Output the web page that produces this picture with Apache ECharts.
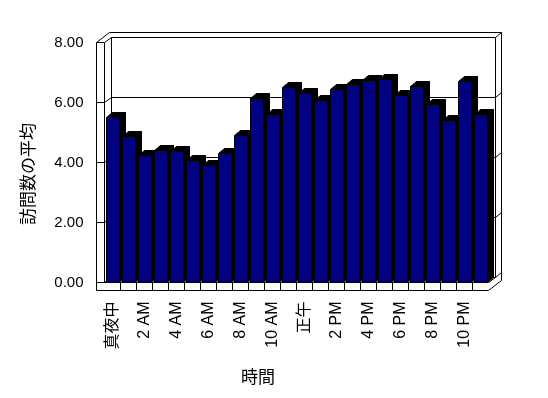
<!DOCTYPE html>
<html>
<head>
<meta charset="utf-8">
<script src="https://cdn.jsdelivr.net/npm/echarts@6/dist/echarts.min.js"></script>
<style>
html, body { margin: 0; padding: 0; background: #fff; }
#chart { width: 548px; height: 398px; }
</style>
</head>
<body>
<div id="chart"></div>
<script>
const hours = [
  '真夜中', '1 AM', '2 AM', '3 AM', '4 AM', '5 AM', '6 AM', '7 AM', '8 AM', '9 AM', '10 AM', '11 AM',
  '正午', '1 PM', '2 PM', '3 PM', '4 PM', '5 PM', '6 PM', '7 PM', '8 PM', '9 PM', '10 PM', '11 PM'
]
const visits = [
  5.51, 4.88, 4.24, 4.40, 4.38, 4.07, 3.91, 4.31, 4.91, 6.13, 5.60, 6.51,
  6.31, 6.07, 6.44, 6.60, 6.73, 6.77, 6.24, 6.53, 5.93, 5.40, 6.71, 5.60
]
const yTicks = [0, 2, 4, 6, 8]
const yMax = 8

const FONT = "'Liberation Sans', 'Noto Sans CJK JP', sans-serif"
const px = (v) => Math.round(v - 0.5) + 0.5

// 3D風の枠（側壁・奥の壁・床）
const renderFrame = (params, api) => {
  const band = api.size([1, 0])[0]
  const x0 = px(api.coord([0, 0])[0] - band / 2)
  const x1 = px(api.coord([hours.length - 1, 0])[0] + band / 2)
  const yb = px(api.coord([0, 0])[1])
  const yt = px(api.coord([0, yMax])[1])
  const xs = x0 - 8           // side wall outer edge
  const yf = yb + 8           // floor bottom
  const line = (points) => ({
    type: 'polyline',
    shape: { points },
    style: { stroke: '#000', lineWidth: 1, fill: null }
  })
  const children = [
    {
      type: 'polygon',
      shape: { points: [[xs, yt], [xs + 13, yt - 10], [x1 + 13, yt - 10], [x1 + 13, yf - 10], [x1, yf], [xs, yf]] },
      style: { fill: '#fff', stroke: '#000', lineWidth: 1 }
    },
    line([[x0 + 7, yt - 5], [x0 + 7, yb - 5]]),
    line([[x1 + 7, yt - 5], [x1 + 7, yb - 5]]),
    line([[x0, yt], [x0, yb]]),
    line([[x0, yb], [x1, yb], [x1 + 7, yb - 5]])
  ]
  yTicks.forEach((v) => {
    const y = px(api.coord([0, v])[1])
    children.push(line([[xs, y], [x0, y], [x0 + 7, y - 5], [x1 + 7, y - 5], [x1 + 13, y - 10]]))
  })
  for (let i = 1; i < hours.length; i++) {
    const x = px(x0 + band * i)
    children.push(line([[x, yb], [x, yf]]))
  }
  return { type: 'group', children }
}

// 立体の棒
const renderBar = (params, api) => {
  const top = api.coord([api.value(0), api.value(1)])
  const base = api.coord([api.value(0), 0])
  const w = Math.round(api.size([1, 0])[0] * 0.8)
  const xa = px(top[0] - w / 2)
  const xb = xa + w
  const yt = px(top[1])
  const yb = px(base[1])
  const dx = 6
  const dy = -5
  return {
    type: 'group',
    children: [
      {
        type: 'polygon',
        shape: { points: [[xb, yt], [xb + dx, yt + dy], [xb + dx, yb + dy], [xb, yb]] },
        style: { fill: '#000', stroke: '#000', lineWidth: 1 }
      },
      {
        type: 'polygon',
        shape: { points: [[xa, yt], [xa + dx, yt + dy], [xb + dx, yt + dy], [xb, yt]] },
        style: { fill: '#000', stroke: '#000', lineWidth: 1 }
      },
      {
        type: 'rect',
        shape: { x: xa, y: yt, width: w, height: yb - yt },
        style: { fill: '#000080', stroke: '#000', lineWidth: 1 }
      }
    ]
  }
}

const chart = echarts.init(document.getElementById('chart'))
chart.setOption({
  animation: false,
  backgroundColor: '#fff',
  grid: { left: 104.5, right: 59.5, top: 42.5, bottom: 115.5 },
  xAxis: {
    type: 'category',
    data: hours,
    axisLine: { show: false },
    axisTick: { show: false },
    axisLabel: {
      interval: 1,
      rotate: 90,
      margin: 19,
      color: '#000',
      fontSize: 16,
      fontFamily: FONT
    }
  },
  yAxis: {
    type: 'value',
    min: 0,
    max: yMax,
    interval: 2,
    axisLine: { show: false },
    axisTick: { show: false },
    splitLine: { show: false },
    axisLabel: {
      margin: 21,
      color: '#000',
      fontSize: 15,
      fontFamily: FONT,
      formatter: (v) => v.toFixed(2)
    }
  },
  graphic: [
    {
      type: 'text',
      x: 28,
      y: 174,
      rotation: Math.PI / 2,
      style: {
        text: '訪問数の平均',
        fontSize: 17,
        fontFamily: "'Noto Sans CJK JP', sans-serif",
        fill: '#000',
        align: 'center',
        verticalAlign: 'middle'
      }
    },
    {
      type: 'text',
      x: 258,
      y: 377,
      style: {
        text: '時間',
        fontSize: 17,
        fontFamily: "'Noto Sans CJK JP', sans-serif",
        fill: '#000',
        align: 'center',
        verticalAlign: 'middle'
      }
    }
  ],
  series: [
    {
      name: 'frame',
      type: 'custom',
      z: 1,
      silent: true,
      renderItem: renderFrame,
      data: [[0, 0]]
    },
    {
      name: '訪問数の平均',
      type: 'custom',
      z: 2,
      renderItem: renderBar,
      data: visits.map((v, i) => [i, v])
    }
  ]
})
</script>
</body>
</html>
